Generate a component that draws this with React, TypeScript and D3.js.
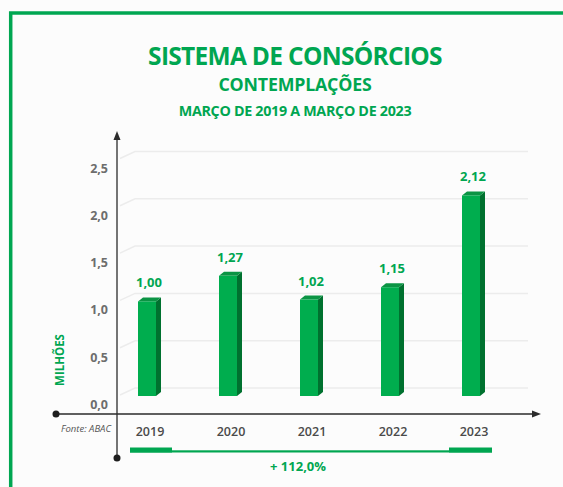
import React from "react";
import * as d3 from "d3";

const years = ["2019", "2020", "2021", "2022", "2023"];
const values = [1.0, 1.27, 1.02, 1.15, 2.12];
const valueLabels = ["1,00", "1,27", "1,02", "1,15", "2,12"];
const yTicks = [0, 0.5, 1, 1.5, 2, 2.5];
const yTickLabels = ["0,0", "0,5", "1,0", "1,5", "2,0", "2,5"];
const growthLabel = "+ 112,0%";

const GREEN = "#00a651";
const FONT = "'Open Sans', 'Noto Sans', sans-serif";

const App = () => {
	const width = 563;
	const height = 487;

	const x = d3.scalePoint().domain(years).range([147, 471]);
	const y = d3.scaleLinear().domain([0, 2.5]).range([396, 159.5]);

	const barW = 18;
	const depthX = 5;
	const depthY = -4;
	// back wall offset for the perspective grid
	const wallDy = -8;

	const axisX = 117;
	const axisY = 414;

	return (
		<svg
			width={width}
			height={height}
			style={{ position: "absolute", left: 0, top: 0, background: "#fcfcfc" }}
			fontFamily={FONT}
		>
			<rect x={0} y={0} width={width} height={height} fill="#fcfcfc" />
			{/* frame */}
			<path d={`M 10.7,${height + 5} V 13 H ${width + 5}`} fill="none" stroke={GREEN} strokeWidth={3.5} />

			{/* titles */}
			<text x={295} y={64.5} textAnchor="middle" fill={GREEN} fontWeight="700" fontSize={24.5} letterSpacing={-0.7}>
				SISTEMA DE CONSÓRCIOS
			</text>
			<text x={295} y={91} textAnchor="middle" fill={GREEN} fontWeight="700" fontSize={17.8} letterSpacing={-0.2}>
				CONTEMPLAÇÕES
			</text>
			<text x={295} y={115.5} textAnchor="middle" fill={GREEN} fontWeight="700" fontSize={14.3} letterSpacing={-0.3}>
				MARÇO DE 2019 A MARÇO DE 2023
			</text>

			{/* grid on the back wall */}
			{yTicks.map((t, i) => (
				<path
					key={"g" + i}
					d={`M ${axisX + 3},${y(t) + wallDy + 7} L ${axisX + 3 + 15},${y(t) + wallDy} H 528`}
					fill="none"
					stroke="#ececec"
					strokeWidth={1.5}
				/>
			))}

			{/* y tick labels */}
			{yTicks.map((t, i) => (
				<text
					key={"t" + i}
					x={108}
					y={y(t) + 13}
					textAnchor="end"
					fill="#6d6d6d"
					fontWeight="700"
					fontSize={12.5}
				>
					{yTickLabels[i]}
				</text>
			))}

			<text
				transform={`translate(64,360) rotate(-90)`}
				textAnchor="middle"
				fill={GREEN}
				fontWeight="700"
				fontSize={11.5}
			>
				MILHÕES
			</text>

			{/* bars */}
			{years.map((yr, i) => {
				const cx = x(yr) as number;
				const x0 = cx - barW / 2;
				const x1 = cx + barW / 2;
				const yt = y(values[i]);
				const yb = y(0);
				return (
					<g key={yr}>
						<path
							d={`M ${x1},${yt} L ${x1 + depthX},${yt + depthY} V ${yb + depthY} L ${x1},${yb} Z`}
							fill="#00712f"
						/>
						<path
							d={`M ${x0},${yt} L ${x0 + depthX},${yt + depthY} H ${x1 + depthX} L ${x1},${yt} Z`}
							fill="#0b9444"
						/>
						<rect x={x0} y={yt} width={barW} height={yb - yt} fill="#00ad4e" />
						<text
							x={cx + 2}
							y={yt - 14}
							textAnchor="middle"
							fill={GREEN}
							fontWeight="700"
							fontSize={13}
						>
							{valueLabels[i]}
						</text>
						<text x={cx + 3} y={436} textAnchor="middle" fill="#4a4a4a" fontWeight="600" fontSize={12.5}>
							{yr}
						</text>
					</g>
				);
			})}

			{/* axes */}
			<line x1={axisX} y1={136} x2={axisX} y2={458} stroke="#2b2b2b" strokeWidth={1.3} />
			<path d={`M ${axisX},${131} L ${axisX - 3.5},${140} L ${axisX + 3.5},${140} Z`} fill="#2b2b2b" />
			<line x1={56} y1={axisY} x2={534} y2={axisY} stroke="#2b2b2b" strokeWidth={1.3} />
			<path d={`M ${541},${axisY} L ${532},${axisY - 3.5} L ${532},${axisY + 3.5} Z`} fill="#2b2b2b" />
			<circle cx={56} cy={axisY} r={3.5} fill="#1e1e1e" />
			<circle cx={axisX} cy={458} r={3.5} fill="#1e1e1e" />

			<text x={111} y={432} textAnchor="end" fill="#555" fontStyle="italic" fontSize={9.5}>
				Fonte: ABAC
			</text>

			{/* growth bracket */}
			<rect x={130} y={447.5} width={42} height={5} fill={GREEN} />
			<rect x={449} y={447.5} width={43} height={5} fill={GREEN} />
			<rect x={130} y={450.3} width={362} height={2.2} fill={GREEN} />
			<text x={298} y={471} textAnchor="middle" fill={GREEN} fontWeight="700" fontSize={13}>
				{growthLabel}
			</text>
		</svg>
	);
};

export default App;
